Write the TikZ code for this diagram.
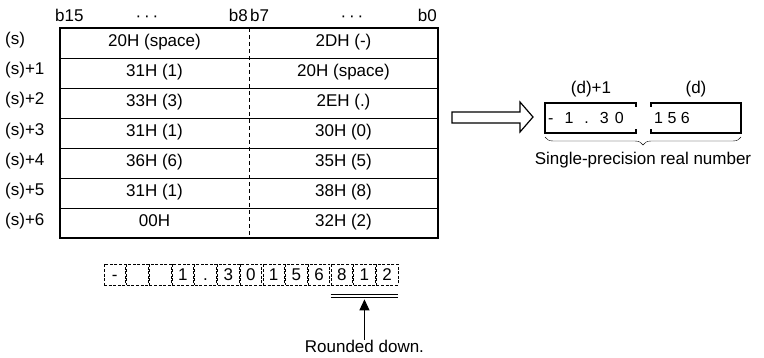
\documentclass[tikz,border=0pt]{standalone}
\usepackage{fontspec}
\setmainfont{Liberation Sans}
\usetikzlibrary{arrows.meta,decorations.pathreplacing}
\begin{document}
\begin{tikzpicture}[x=1pt,y=-1pt,every node/.style={font=\fontsize{17}{20}\selectfont,inner sep=0pt},
  cell/.style={minimum width=189pt,minimum height=30pt,text height=12pt,text depth=4pt},
  rowlbl/.style={anchor=west,text height=12pt,text depth=4pt},
  chr/.style={draw,dash pattern=on 3pt off 1.6pt,line width=0.7pt,minimum width=21.5pt,minimum height=21pt,text height=12pt,text depth=0pt}]
  \useasboundingbox (0,0) rectangle (764,358);
  % bit header
  \node[anchor=base west] (b15) at (55,22) {b15};
  \node[anchor=base] (dl) at (147,22) {·\,·\,·};
  \node[anchor=base east] (b8) at (248,22) {b8};
  \node[anchor=base west] (b7) at (250,22) {b7};
  \node[anchor=base] (dr) at (352,22) {·\,·\,·};
  \node[anchor=base east] (b0) at (437,22) {b0};
  % source words
  \node[rowlbl] (s0) at (5,41) {(s)};   \node[cell] (l0) at (154.5,43) {20H (space)}; \node[cell] (r0) at (343.5,43) {2DH (-)};
  \node[rowlbl] (s1) at (5,71) {(s)+1}; \node[cell] (l1) at (154.5,73) {31H (1)};     \node[cell] (r1) at (343.5,73) {20H (space)};
  \node[rowlbl] (s2) at (5,101) {(s)+2}; \node[cell] (l2) at (154.5,103) {33H (3)};   \node[cell] (r2) at (343.5,103) {2EH (.)};
  \node[rowlbl] (s3) at (5,132) {(s)+3}; \node[cell] (l3) at (154.5,133) {31H (1)};   \node[cell] (r3) at (343.5,133) {30H (0)};
  \node[rowlbl] (s4) at (5,162) {(s)+4}; \node[cell] (l4) at (154.5,163) {36H (6)};   \node[cell] (r4) at (343.5,163) {35H (5)};
  \node[rowlbl] (s5) at (5,192) {(s)+5}; \node[cell] (l5) at (154.5,193) {31H (1)};   \node[cell] (r5) at (343.5,193) {38H (8)};
  \node[rowlbl] (s6) at (5,222) {(s)+6}; \node[cell] (l6) at (154.5,223) {00H};       \node[cell] (r6) at (343.5,223) {32H (2)};
  \draw[line width=0.8pt] (l0.south west) -- (r0.south east) (l1.south west) -- (r1.south east) (l2.south west) -- (r2.south east)
    (l3.south west) -- (r3.south east) (l4.south west) -- (r4.south east) (l5.south west) -- (r5.south east);
  \draw[line width=0.7pt,dash pattern=on 4pt off 3pt] (l0.north east) -- (l6.south east);
  \draw[line width=1.8pt] (l0.north west) rectangle (r6.south east);
  % conversion
  \draw[line width=1.2pt] (452,112) -- (520,112) -- (520,102) -- (533,117) -- (520,132) -- (520,123) -- (452,123) -- cycle;
  \node (dh) at (591,89) {(d)+1};
  \node (dw) at (696,89) {(d)};
  \node[anchor=west,minimum height=30pt,font=\fontsize{16}{19}\selectfont] (vh) at (548,118) {-\hspace{11pt}1\hspace{11pt}.\hspace{11pt}3\hspace{6pt}0};
  \node[anchor=west,minimum height=30pt,font=\fontsize{16}{19}\selectfont] (vw) at (654,118) {1 5 6};
  \draw[line width=1.2pt] (636,107) -- (636,103) -- (545,103) -- (545,133) -- (636,133) -- (636,129);
  \draw[line width=1.2pt] (651,107) -- (651,103) -- (741,103) -- (741,133) -- (651,133) -- (651,129);
  \draw[decorate,decoration={brace,mirror,amplitude=8pt}] (545,137) -- (741,137) coordinate[midway] (bm);
  \node (real) at (643,160) {Single-precision real number};
  % character string
  \node[chr] (c1) at (114.75,274.5) {-};
  \node[chr] (c2) at (137.45,274.5) {};
  \node[chr] (c3) at (160.15,274.5) {};
  \node[chr] (c4) at (182.85,274.5) {1};
  \node[chr] (c5) at (205.55,274.5) {.};
  \node[chr] (c6) at (228.25,274.5) {3};
  \node[chr] (c7) at (250.95,274.5) {0};
  \node[chr] (c8) at (273.65,274.5) {1};
  \node[chr] (c9) at (296.35,274.5) {5};
  \node[chr] (c10) at (319.05,274.5) {6};
  \node[chr] (c11) at (341.75,274.5) {8};
  \node[chr] (c12) at (364.45,274.5) {1};
  \node[chr] (c13) at (387.15,274.5) {2};
  \draw[line width=0.9pt] ([yshift=-9pt]c11.south west) -- ([yshift=-9pt]c13.south east)
    ([yshift=-12.5pt]c11.south west) -- ([yshift=-12.5pt]c13.south east);
  \node (rd) at (364.45,346) {Rounded down.};
  \draw[-{Triangle[width=10pt,length=11pt]},line width=1pt] (rd.north -| c12) -- ([yshift=-14pt]c12.south);
\end{tikzpicture}
\end{document}
